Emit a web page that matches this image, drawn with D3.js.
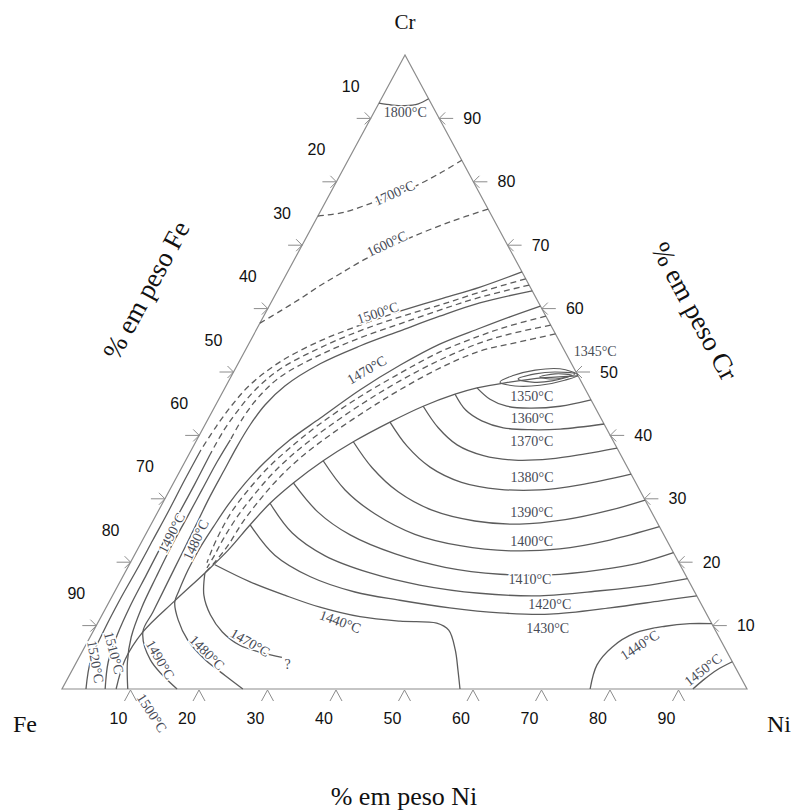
<!DOCTYPE html>
<html>
<head>
<meta charset="utf-8">
<script src="https://cdn.jsdelivr.net/npm/d3@7"></script>
<style>
  body { margin: 0; background: #fff; }
  svg { display: block; }
</style>
</head>
<body>
<svg id="chart" width="796" height="810"></svg>
<script>
// compositions are [Ni wt%, Cr wt%], Fe is the balance

const iso1800 = [[0,92.4],[2.1,92.1],[4.0,92.0],[5.8,92.3],[6.9,93.1]];
const iso1700 = [[0,74.6],[3.6,75.2],[6.9,76.7],[9.6,77.9],[12.4,79.7],[14.6,81.5],[16.6,83.4]];
const iso1600 = [[0,57.7],[2.0,59.6],[3.9,61.5],[5.8,63.6],[7.8,65.5],[10.3,67.8],[13.0,69.7],[15.4,71.3],[19.8,73.7],[24.3,75.7]];

// upper band, running from the Cr-Ni side down to the Fe corner
const bandU1 = [[34.2,65.8],[29.3,63.4],[24.4,61.5],[19.5,59.6],[14.8,57.4],[10.2,54.9],[6.0,51.6],[3.4,47.9],[2.4,44.8],[1.8,41.6],[1.4,37.7],[1.4,33.0],[1.5,28.2],[1.5,23.5],[1.5,18.8],[1.4,14.0],[1.5,9.3],[1.9,4.6],[3.5,0]];
const bandU2 = [[35.3,64.7],[29.7,62.6],[24.9,60.6],[20.0,58.7],[15.2,56.5],[10.7,53.8],[6.6,50.5],[4.6,47.2],[3.7,44.0],[3.2,40.9],[3.1,36.9],[3.2,32.2],[3.2,27.4],[3.2,22.7],[3.3,18.0],[3.4,13.2],[3.8,8.5],[4.6,4.3],[6.3,0]];
const bandU3 = [[36.3,63.7],[30.1,61.8],[25.3,59.8],[20.5,57.6],[15.8,55.4],[11.3,52.7],[7.2,49.2],[5.6,45.9],[5.0,42.7],[4.9,39.3],[4.7,35.8],[4.7,31.4],[4.7,27.0],[4.7,22.4],[4.9,17.7],[5.2,12.9],[6.0,8.2],[7.4,4.3],[9.6,0]];
const bandU4 = [[37.2,62.8],[30.5,60.9],[25.7,58.8],[21.1,56.5],[16.4,54.1],[12.0,51.3],[8.6,47.8],[7.2,44.8],[6.6,41.6],[6.4,38.2],[6.4,34.5],[6.4,30.3],[6.6,25.9],[6.8,21.5],[7.0,16.7],[7.2,12.1],[7.3,9.0],[10.6,4.6],[16.8,0]];

// lower band, along the valley
const bandL1 = [[39.6,60.4],[36.0,58.7],[32.5,56.9],[27.9,54.4],[23.8,51.1],[19.9,47.2],[16.3,42.7],[13.6,39.3],[11.7,35.8],[10.5,32.5],[9.7,29.0],[9.3,25.6],[9.0,22.2],[9.0,18.8],[9.3,15.6],[9.6,13.7],[11.5,10.9],[14.5,7.7],[18.6,4.6],[22.8,2.1],[26.4,0]];
const bandL2 = [[41.2,58.8],[36.7,57.3],[33.1,55.7],[28.6,53.2],[24.4,49.8],[20.4,46.1],[16.7,41.8],[14.4,38.3],[12.6,34.9],[11.5,31.5],[10.8,28.2],[10.7,24.8],[10.9,21.9],[11.2,19.9]];
const bandL3 = [[42.6,57.4],[37.4,56.0],[33.7,54.6],[29.2,51.9],[25.0,48.6],[21.3,45.0],[17.9,41.0],[15.4,37.4],[13.7,33.9],[12.7,30.6],[12.0,27.3],[11.7,23.8],[11.7,21.0],[11.6,19.1]];
const bandL4 = [[44.0,56.0],[38.8,54.6],[34.3,53.3],[29.8,50.6],[25.7,47.2],[22.3,43.8],[19.1,40.1],[16.5,36.4],[14.9,33.0],[13.9,29.7],[13.2,26.3],[12.9,22.7],[12.3,20.0],[11.7,18.3]];

const valley = [[50.6,49.4],[45.9,49.1],[40.5,48.3],[36.8,47.5],[34.1,46.5],[30.4,44.6],[26.8,42.1],[23.0,39.0],[20.1,36.0],[17.5,32.5],[15.7,29.3],[14.5,25.9],[13.3,21.9],[11.7,18.3],[9.5,13.9],[7.3,9.0],[6.9,4.6],[7.9,0]];

const loop1 = [[50.5,49.5],[47.4,50.5],[43.9,50.3],[41.0,49.4],[39.7,48.4],[42.2,47.8],[45.8,47.9],[49.0,48.7]];
const loop2 = [[50.0,49.7],[46.9,50.0],[44.2,49.7],[42.1,48.9],[44.4,48.4],[47.2,48.6]];
const loop3 = [[49.6,49.5],[47.1,49.7],[45.1,49.2],[47.5,48.9]];

const iso1350 = [[36.8,47.5],[39.6,45.7],[42.6,44.6],[46.1,44.3],[50.4,44.6],[54.4,45.6]];
const iso1360 = [[34.1,46.5],[36.9,44.0],[40.1,42.3],[43.8,41.2],[47.9,40.9],[52.2,41.0],[58.2,41.8]];
const iso1370 = [[30.4,44.6],[34.3,41.2],[38.4,38.5],[43.1,36.8],[48.0,36.1],[53.1,36.3],[57.8,37.1],[62.0,38.0]];
const iso1380 = [[26.8,42.1],[31.2,38.3],[36.2,35.0],[42.0,32.6],[48.1,31.5],[54.1,31.4],[59.5,32.2],[66.1,33.9]];
const iso1390 = [[23.0,39.0],[27.8,34.9],[33.5,31.1],[39.9,28.2],[47.0,26.5],[53.8,26.0],[60.1,26.7],[65.9,28.2],[70.2,29.8]];
const iso1400 = [[20.1,36.0],[25.6,31.4],[31.9,27.6],[39.3,24.4],[46.8,22.6],[54.5,21.8],[61.6,22.1],[68.2,23.5],[74.4,25.6]];
const iso1410 = [[17.5,32.5],[23.4,27.9],[29.9,24.3],[38.0,21.3],[46.3,19.2],[54.9,18.1],[62.2,18.0],[69.1,18.8],[74.4,19.9],[78.5,21.5]];
const iso1420 = [[15.7,29.3],[21.3,24.6],[27.9,21.0],[35.8,18.3],[44.0,16.4],[53.4,15.1],[62.4,14.7],[70.8,15.5],[77.6,16.4],[82.6,17.4]];
const iso1430 = [[14.5,25.9],[20.5,21.1],[27.4,17.7],[35.1,15.3],[42.3,14.0],[50.2,12.8],[57.9,12.0],[65.3,11.8],[73.6,12.8],[80.4,13.9],[85.3,14.7]];
const iso1440 = [[12.5,19.6],[19.0,16.9],[25.1,14.8],[31.2,12.9],[37.8,11.4],[44.0,10.7],[49.5,10.4],[51.8,9.3],[54.3,6.2],[56.3,3.0],[58.1,0]];
const iso1440Ni = [[77.1,0],[76.2,3.8],[77.0,6.6],[79.2,8.8],[83.1,9.9],[86.5,10.3],[89.7,10.3]];
const iso1450 = [[92.1,0],[92.9,1.4],[94.1,3.0],[95.7,4.3]];
const iso1470 = [[11.7,18.3],[13.3,14.8],[15.8,11.7],[18.9,9.0],[22.5,6.9],[26.4,5.7],[29.6,5.0]];

const isoLabels = [
  ["1800°C", 4.6, 90.9], ["1700°C", 9.4, 78.2], ["1600°C", 12.3, 70.2],
  ["1500°C", 16.4, 59.3], ["1470°C", 19.3, 50.3], ["1345°C", 51.2, 53.2],
  ["1350°C", 45.5, 46.1], ["1360°C", 47.3, 42.6], ["1370°C", 49.0, 39.1],
  ["1380°C", 51.9, 33.4], ["1390°C", 54.6, 27.9], ["1400°C", 56.9, 23.3],
  ["1410°C", 59.7, 17.2], ["1420°C", 64.5, 13.4], ["1430°C", 66.1, 9.6],
  ["1440°C", 35.3, 10.6], ["1440°C", 80.9, 6.9], ["1450°C", 92.1, 3.0],
  ["1470°C", 23.8, 7.3], ["?", 31.0, 3.9], ["1480°C", 18.3, 5.7],
  ["1490°C", 12.0, 4.6], ["1500°C", 15.0, -3.8], ["1510°C", 4.7, 5.7],
  ["1520°C", 2.7, 4.3], ["1490°C", 3.7, 24.6], ["1480°C", 7.8, 23.5]
];
const labelAngles = [0,-24,-25,-18,-30,0, 0,0,0, 0,0,0, 0,0,0, 20,-33,-38, 30,0,45, 60,57,75, 80,-63,-65];

const tickValues = [10, 20, 30, 40, 50, 60, 70, 80, 90];

// ---- layout ----
const FE = [62, 689], NI = [747, 689], CR = [405, 55];

const niX = d3.scaleLinear().domain([0, 100]).range([0, NI[0] - FE[0]]);
const crX = d3.scaleLinear().domain([0, 100]).range([0, CR[0] - FE[0]]);
const crY = d3.scaleLinear().domain([0, 100]).range([FE[1], CR[1]]);

function proj(d) {
  return [FE[0] + niX(d[0]) + crX(d[1]), crY(d[1])];
}

const svg = d3.select("#chart");
const lineColor = "#5c5c5c";
const edgeColor = "#8c8c8c";
const labelColor = "#474b56";

const curve = d3.line()
  .x(d => proj(d)[0])
  .y(d => proj(d)[1])
  .curve(d3.curveCatmullRom.alpha(0.5));

const closedCurve = d3.line()
  .x(d => proj(d)[0])
  .y(d => proj(d)[1])
  .curve(d3.curveCatmullRomClosed.alpha(0.5));

// triangle
svg.append("path")
  .attr("d", `M${FE}L${NI}L${CR}Z`)
  .attr("fill", "none")
  .attr("stroke", edgeColor)
  .attr("stroke-width", 1.2);

// each line: data plus [from, to, dashed] pieces
const lines = [
  { pts: iso1800, parts: [[0, 4, false]] },
  { pts: iso1700, parts: [[0, 6, true]] },
  { pts: iso1600, parts: [[0, 9, true]] },
  { pts: bandU1, parts: [[0, 3, false], [3, 10, true], [10, 18, false]] },
  { pts: bandU2, parts: [[0, 10, true], [10, 18, false]] },
  { pts: bandU3, parts: [[0, 9, true], [9, 18, false]] },
  { pts: bandU4, parts: [[0, 18, false]] },
  { pts: bandL1, parts: [[0, 20, false]] },
  { pts: bandL2, parts: [[0, 13, true]] },
  { pts: bandL3, parts: [[0, 13, true]] },
  { pts: bandL4, parts: [[0, 13, true]] },
  { pts: valley, parts: [[0, 17, false]] },
  { pts: iso1350 }, { pts: iso1360 }, { pts: iso1370 }, { pts: iso1380 },
  { pts: iso1390 }, { pts: iso1400 }, { pts: iso1410 }, { pts: iso1420 },
  { pts: iso1430 }, { pts: iso1440 }, { pts: iso1440Ni }, { pts: iso1450 },
  { pts: iso1470 }
];

const gLines = svg.append("g").attr("fill", "none").attr("stroke", lineColor).attr("stroke-width", 1.3);

lines.forEach(l => {
  const parts = l.parts || [[0, l.pts.length - 1, false]];
  parts.forEach(([a, b, dashed]) => {
    gLines.append("path")
      .attr("d", curve(l.pts.slice(a, b + 1)))
      .attr("stroke-dasharray", dashed ? "6,4" : null);
  });
});

[loop1, loop2, loop3].forEach(lp => {
  gLines.append("path").attr("d", closedCurve(lp)).attr("stroke-width", 1.1);
});

// isotherm labels
svg.append("g")
  .selectAll("text")
  .data(isoLabels)
  .join("text")
  .attr("transform", (d, i) => {
    const p = proj([d[1], d[2]]);
    return `translate(${p[0]},${p[1]}) rotate(${labelAngles[i]})`;
  })
  .attr("text-anchor", "middle")
  .attr("dominant-baseline", "central")
  .attr("font-family", "'Liberation Serif', 'DejaVu Serif', serif")
  .attr("font-size", 14)
  .attr("fill", labelColor)
  .attr("stroke", "#fff")
  .attr("stroke-width", 3)
  .attr("paint-order", "stroke")
  .text(d => d[0]);

// ticks
const gTicks = svg.append("g").attr("fill", "none").attr("stroke", edgeColor).attr("stroke-width", 1);
const gTickText = svg.append("g")
  .attr("font-family", "'Liberation Sans', Arial, sans-serif")
  .attr("font-size", 16)
  .attr("fill", "#111")
  .attr("text-anchor", "middle");

tickValues.forEach(v => {
  // Ni along the bottom
  const b = proj([v, 0]);
  gTicks.append("path").attr("d", `M${b[0] - 6},${b[1] + 12}L${b[0]},${b[1] + 1}L${b[0] + 6},${b[1] + 12}`);
  gTickText.append("text").attr("x", b[0] - 12).attr("y", b[1] + 35).text(v);

  // Fe along the left side
  const l = proj([0, 100 - v]);
  gTicks.append("path").attr("d", `M${l[0] - 14},${l[1]}L${l[0]},${l[1]}M${l[0] - 6},${l[1] - 6}L${l[0]},${l[1]}L${l[0] - 6},${l[1] + 6}`);
  gTickText.append("text").attr("x", l[0] - 20).attr("y", l[1] - 32).attr("dy", "0.35em").text(v);

  // Cr along the right side
  const r = proj([100 - v, v]);
  gTicks.append("path").attr("d", `M${r[0] + 14},${r[1]}L${r[0]},${r[1]}M${r[0] + 6},${r[1] - 6}L${r[0]},${r[1]}L${r[0] + 6},${r[1] + 6}`);
  gTickText.append("text").attr("x", r[0] + 33).attr("y", r[1]).attr("dy", "0.35em").text(v);
});

// corner names and axis titles
const serif = "'Liberation Serif', 'DejaVu Serif', serif";
const corners = [["Cr", CR[0], 22, 21], ["Fe", 25, 724, 24], ["Ni", 779, 724, 24]];
svg.append("g")
  .selectAll("text")
  .data(corners)
  .join("text")
  .attr("x", d => d[1])
  .attr("y", d => d[2])
  .attr("dy", "0.35em")
  .attr("text-anchor", "middle")
  .attr("font-family", serif)
  .attr("font-size", d => d[3])
  .attr("fill", "#111")
  .text(d => d[0]);

const edgeAngle = Math.atan2(CR[1] - FE[1], CR[0] - FE[0]) * 180 / Math.PI;

svg.append("text")
  .attr("transform", `translate(146,290) rotate(${edgeAngle})`)
  .attr("text-anchor", "middle").attr("dy", "0.35em")
  .attr("font-family", serif).attr("font-size", 27).attr("fill", "#111")
  .text("% em peso Fe");

svg.append("text")
  .attr("transform", `translate(695,311) rotate(${-edgeAngle})`)
  .attr("text-anchor", "middle").attr("dy", "0.35em")
  .attr("font-family", serif).attr("font-size", 27).attr("fill", "#111")
  .text("% em peso Cr");

svg.append("text")
  .attr("x", 404).attr("y", 796)
  .attr("text-anchor", "middle").attr("dy", "0.35em")
  .attr("font-family", serif).attr("font-size", 26).attr("fill", "#111")
  .text("% em peso Ni");
</script>
</body>
</html>
